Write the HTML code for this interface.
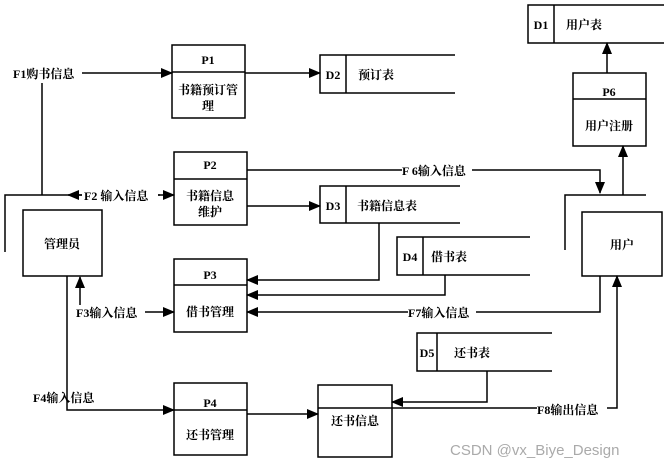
<!DOCTYPE html><html><head><meta charset="utf-8"><style>body{margin:0;background:#fff}svg text{font-family:"Liberation Serif","Noto Serif CJK SC",serif;font-size:12px;font-weight:bold;fill:#000}</style></head><body>
<svg width="669" height="468" viewBox="0 0 669 468" xmlns="http://www.w3.org/2000/svg">
<defs><marker id="a" markerWidth="12" markerHeight="10" refX="11" refY="5" orient="auto" markerUnits="userSpaceOnUse"><path d="M0,0L12,5L0,10z" fill="#000"/></marker></defs>
<g fill="none" stroke="#000" stroke-width="1.5">
<rect x="172" y="45" width="73" height="73"/><line x1="172" y1="72" x2="245" y2="72"/>
<rect x="174" y="152" width="73" height="73"/><line x1="174" y1="179" x2="247" y2="179"/>
<rect x="174" y="259" width="73" height="73"/><line x1="174" y1="285" x2="247" y2="285"/>
<rect x="174" y="383" width="73" height="72"/><line x1="174" y1="410" x2="247" y2="410"/>
<rect x="318" y="385" width="74" height="72"/>
<rect x="23" y="210" width="79" height="66"/>
<rect x="582" y="212" width="80" height="64"/>
<rect x="573" y="73" width="73" height="73"/><line x1="573" y1="99" x2="646" y2="99"/>
<path d="M664,5H528V43H664M554,5V43"/>
<path d="M455,55H320V93H455M346,55V93"/>
<path d="M460,186H320V223H460M346,186V223"/>
<path d="M530,237H397V275H530M423,237V275"/>
<path d="M552,333H417V371H552M437,333V371"/>
<path d="M5,252V195H160M42,195V83"/>
<line x1="82" y1="73" x2="172" y2="73" marker-end="url(#a)"/>
<line x1="82" y1="195" x2="68" y2="195" marker-end="url(#a)"/>
<line x1="158" y1="195" x2="174" y2="195" marker-end="url(#a)"/>
<path d="M67,276V410H174" marker-end="url(#a)"/>
<line x1="80" y1="305" x2="80" y2="277" marker-end="url(#a)"/>
<line x1="145" y1="312" x2="174" y2="312" marker-end="url(#a)"/>
<line x1="245" y1="73" x2="320" y2="73" marker-end="url(#a)"/>
<path d="M247,170H600V193" marker-end="url(#a)"/>
<line x1="247" y1="206" x2="320" y2="206" marker-end="url(#a)"/>
<path d="M565,250V195H646"/>
<line x1="623" y1="195" x2="623" y2="146" marker-end="url(#a)"/>
<line x1="607" y1="73" x2="607" y2="43" marker-end="url(#a)"/>
<path d="M379,223V280H247" marker-end="url(#a)"/>
<path d="M445,275V295H247" marker-end="url(#a)"/>
<path d="M600,276V312H247" marker-end="url(#a)"/>
<path d="M318,408H617V276" marker-end="url(#a)"/>
<path d="M487,371V402H392" marker-end="url(#a)"/>
<line x1="247" y1="414" x2="318" y2="414" marker-end="url(#a)"/>
</g>
<g fill="#fff"><rect x="12" y="66" width="70" height="15"/><rect x="82" y="188" width="76" height="15"/><rect x="78" y="305" width="66" height="15"/><rect x="402" y="163" width="70" height="15"/><rect x="408" y="305" width="68" height="15"/><rect x="537" y="402" width="70" height="15"/></g>
<text x="13" y="78">F1购书信息</text>
<text x="84" y="200">F2 输入信息</text>
<text x="76" y="317">F3输入信息</text>
<text x="33" y="402">F4输入信息</text>
<text x="402" y="175">F 6输入信息</text>
<text x="408" y="317">F7输入信息</text>
<text x="537" y="414">F8输出信息</text>
<g text-anchor="middle"><text x="208" y="64">P1</text><text x="208" y="94">书籍预订管</text><text x="208" y="110">理</text>
<text x="210" y="169">P2</text><text x="210" y="200">书籍信息</text><text x="210" y="216">维护</text>
<text x="210" y="279">P3</text><text x="210" y="316">借书管理</text>
<text x="210" y="407">P4</text><text x="210" y="439">还书管理</text>
<text x="355" y="425">还书信息</text>
<text x="62" y="248">管理员</text><text x="622" y="249">用户</text>
<text x="609" y="96">P6</text><text x="609" y="130">用户注册</text>
<text x="541" y="29">D1</text><text x="333" y="79">D2</text><text x="333" y="210">D3</text><text x="410" y="261">D4</text><text x="427" y="357">D5</text></g>
<text x="566" y="29">用户表</text><text x="358" y="79">预订表</text><text x="357" y="210">书籍信息表</text><text x="431" y="261">借书表</text><text x="454" y="357">还书表</text>
<text x="450" y="455" style="font-family:'Liberation Sans',sans-serif;font-weight:normal;font-size:15px;fill:#aaa">CSDN @vx_Biye_Design</text>
</svg></body></html>
